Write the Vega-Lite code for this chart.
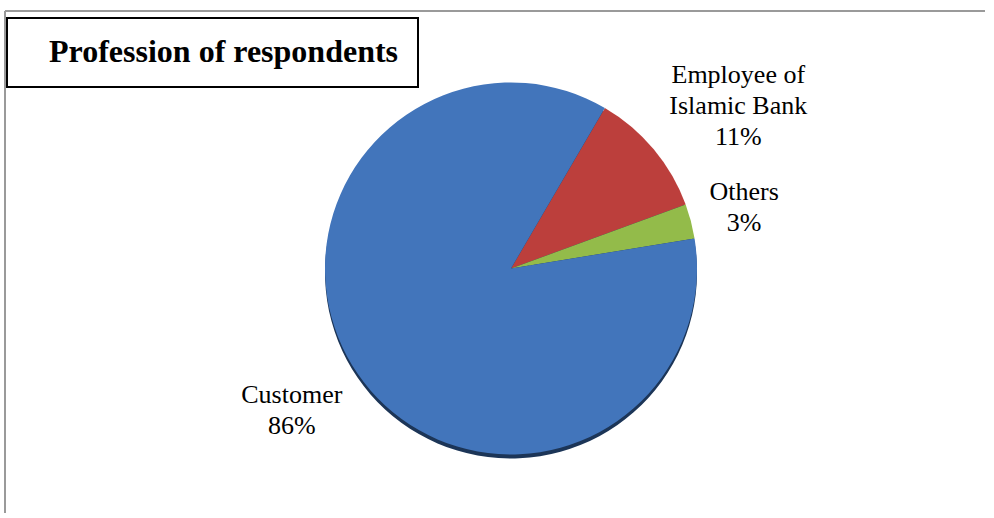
{
  "$schema": "https://vega.github.io/schema/vega-lite/v6.json",
  "width": 980,
  "height": 502,
  "autosize": "none",
  "padding": {"left": 5, "top": 11, "right": 0, "bottom": 0},
  "background": "white",
  "view": {"stroke": "#9a9a9a", "strokeWidth": 2, "fill": "white", "strokeDash": [980, 1482, 502, 0]},
  "config": {
    "font": "Liberation Serif"
  },
  "data": {
    "values": [
      {"category": "Employee of Islamic Bank", "label": "Employee of\nIslamic Bank", "percent": 11, "rank": 1},
      {"category": "Others", "label": "Others", "percent": 3, "rank": 2},
      {"category": "Customer", "label": "Customer", "percent": 86, "rank": 3}
    ]
  },
  "transform": [
    {"calculate": "datum.label + '\\n' + datum.percent + '%'", "as": "text"},
    {"stack": "percent", "groupby": [], "sort": [{"field": "rank", "order": "ascending"}], "as": ["start", "end"]},
    {"calculate": "(datum.start + datum.end) / 2", "as": "mid"}
  ],
  "layer": [
    {
      "mark": {"type": "arc", "outerRadius": 186, "xOffset": 16, "yOffset": 10.5, "color": "#1c3557"},
      "encoding": {
        "theta": {"field": "start", "type": "quantitative", "scale": {"domain": [0, 100], "range": [0.529, 6.812]}},
        "theta2": {"field": "end"}
      }
    },
    {
      "mark": {"type": "arc", "outerRadius": 186, "xOffset": 16, "yOffset": 6.5},
      "encoding": {
        "theta": {"field": "start", "type": "quantitative", "scale": {"domain": [0, 100], "range": [0.529, 6.812]}},
        "theta2": {"field": "end"},
        "color": {
          "field": "category",
          "type": "nominal",
          "scale": {"domain": ["Customer", "Employee of Islamic Bank", "Others"], "range": ["#4275bb", "#bc3f3c", "#93bb4a"]},
          "legend": {
            "values": [],
            "title": "\u2800Profession of respondents",
            "orient": "none",
            "legendX": 2,
            "legendY": 7,
            "titleFont": "Liberation Serif",
            "titleFontSize": 32,
            "titleFontWeight": "bold",
            "titleColor": "black",
            "titleLimit": 1000,
            "strokeColor": "black",
            "fillColor": "white",
            "padding": 19,
            "encode": {"legend": {"update": {"strokeWidth": {"value": 2}}}}
          }
        }
      }
    },
    {
      "transform": [{"filter": "datum.category == 'Employee of Islamic Bank'"}],
      "mark": {"type": "text", "radius": 278, "dx": 30, "dy": -9, "fontSize": 26, "lineHeight": 31, "lineBreak": "\n", "font": "Liberation Serif", "color": "black"},
      "encoding": {
        "theta": {"field": "mid", "type": "quantitative", "scale": {"domain": [0, 100], "range": [0.529, 6.812]}},
        "text": {"field": "text"}
      }
    },
    {
      "transform": [{"filter": "datum.category == 'Others'"}],
      "mark": {"type": "text", "radius": 240, "dx": 17, "dy": -9, "fontSize": 26, "lineHeight": 31, "lineBreak": "\n", "font": "Liberation Serif", "color": "black"},
      "encoding": {
        "theta": {"field": "mid", "type": "quantitative", "scale": {"domain": [0, 100], "range": [0.529, 6.812]}},
        "text": {"field": "text"}
      }
    },
    {
      "transform": [{"filter": "datum.category == 'Customer'"}],
      "mark": {"type": "text", "radius": 272, "dx": 21, "dy": -21, "fontSize": 26, "lineHeight": 31, "lineBreak": "\n", "font": "Liberation Serif", "color": "black"},
      "encoding": {
        "theta": {"field": "mid", "type": "quantitative", "scale": {"domain": [0, 100], "range": [0.529, 6.812]}},
        "text": {"field": "text"}
      }
    }
  ]
}
